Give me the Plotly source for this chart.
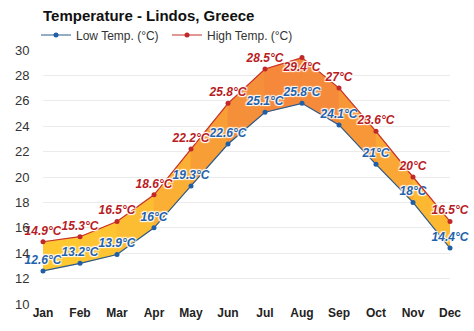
import plotly.graph_objects as go

months = ["Jan", "Feb", "Mar", "Apr", "May", "Jun", "Jul", "Aug", "Sep", "Oct", "Nov", "Dec"]
low = [12.6, 13.2, 13.9, 16, 19.3, 22.6, 25.1, 25.8, 24.1, 21, 18, 14.4]
high = [14.9, 15.3, 16.5, 18.6, 22.2, 25.8, 28.5, 29.4, 27, 23.6, 20, 16.5]
y_ticks = [10, 12, 14, 16, 18, 20, 22, 24, 26, 28, 30]

def fmt(v):
    return (f"{v:g}") + "°C"

cold = (255, 200, 48)
warm = (245, 136, 58)
tmin, tmax = 14, 27

def col(t):
    f = max(0, min(1, (t - tmin) / (tmax - tmin)))
    r, g, b = [round(c0 + (c1 - c0) * f) for c0, c1 in zip(cold, warm)]
    return f"rgb({r},{g},{b})"

x = list(range(len(months)))
fig = go.Figure()

for i in range(len(months) - 1):
    avg = (low[i] + low[i + 1] + high[i] + high[i + 1]) / 4
    c = col(avg)
    fig.add_trace(go.Scatter(
        x=[i, i + 1, i + 1, i, i],
        y=[low[i], low[i + 1], high[i + 1], high[i], low[i]],
        fill="toself", fillcolor=c, mode="lines",
        line=dict(width=0.6, color=c), hoverinfo="skip", showlegend=False))

shadow = "1px 1px 1px white, -1px -1px 1px white, 1px -1px 1px white, -1px 1px 1px white"

high_pos = ["top center"] * len(months)
high_pos[7] = "bottom center"

fig.add_trace(go.Scatter(
    x=x, y=low, mode="lines+markers+text", name="Low Temp. (°C)", cliponaxis=False,
    line=dict(color="#2a5a8c", width=1.2), marker=dict(color="#1f5fa8", size=5),
    text=[fmt(v) for v in low], textposition="top center",
    textfont=dict(color="#1f63ad", size=12, family="Arial, Liberation Sans", style="italic", weight="bold", shadow=shadow)))
fig.add_trace(go.Scatter(
    x=x, y=high, mode="lines+markers+text", name="High Temp. (°C)", cliponaxis=False,
    line=dict(color="#c8302a", width=1.2), marker=dict(color="#c0282a", size=5),
    text=[fmt(v) for v in high], textposition=high_pos,
    textfont=dict(color="#b81c24", size=12, family="Arial, Liberation Sans", style="italic", weight="bold", shadow=shadow)))

fig.update_layout(
    width=474, height=331,
    margin=dict(l=43, r=24, t=50, b=27, autoexpand=False),
    paper_bgcolor="white", plot_bgcolor="white",
    font=dict(family="Arial, Liberation Sans", color="#333"),
    title=dict(text="<b>Temperature - Lindos, Greece</b>", x=43 / 474, xref="container", xanchor="left",
               y=1 - 16 / 331, yref="container", yanchor="middle", font=dict(size=15, color="#111")),
    legend=dict(orientation="h", x=36 / 474, xref="container", xanchor="left", y=1 - 35 / 331, yref="container",
                yanchor="middle", font=dict(size=12, color="#333"), bgcolor="rgba(0,0,0,0)",
                entrywidth=86, entrywidthmode="pixels"),
    xaxis=dict(range=[0, 11], tickmode="array", tickvals=x,
               ticktext=[f"<b>{m}</b>" for m in months], showgrid=False, zeroline=False,
               tickfont=dict(size=12, color="#222"), ticks="", fixedrange=True),
    yaxis=dict(range=[10, 30], tickvals=y_ticks, showgrid=True, gridcolor="#ebebeb",
               zeroline=False, tickfont=dict(size=13, color="#333"), ticks="outside",
               ticklen=10, tickcolor="rgba(0,0,0,0)"),
)
fig.write_html("out.html")
